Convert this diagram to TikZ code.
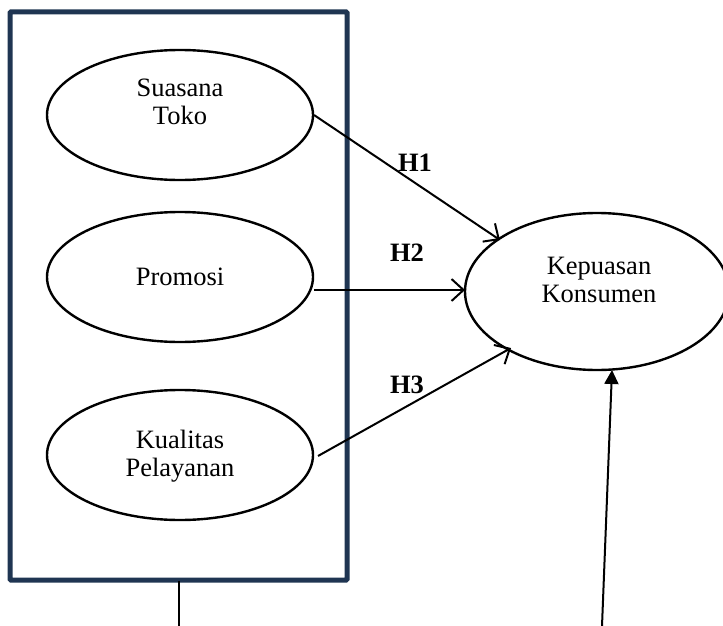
\documentclass[tikz,border=0pt]{standalone}
\usepackage{fontspec}
\setmainfont{Liberation Serif}
\usetikzlibrary{arrows.meta,shapes.geometric}
\definecolor{navy}{HTML}{1F3552}
\tikzset{
  var/.style={draw=black, line width=2.4pt, ellipse, minimum width=266pt, minimum height=130pt, inner sep=0pt},
  lbl/.style={align=center, inner sep=0pt, font=\fontsize{26.5}{27.5}\selectfont},
  hyp/.style={inner sep=0pt, font=\fontsize{26.5}{28}\selectfont\bfseries},
  conn/.style={draw=black, line width=2pt, -{Straight Barb[length=12pt,width=22pt,line width=2pt]}},
}
\begin{document}
\begin{tikzpicture}[x=1pt,y=-1pt]
\useasboundingbox (0,0) rectangle (723,626);
\begin{scope}
\clip (0,0) rectangle (723,626);
\draw[navy, line width=5pt, rounded corners=1pt] (10,12) rectangle (347,580);
\node[var] (st) at (180,115) {};
\node[var] (pr) at (180,277) {};
\node[var] (kp) at (180,455) {};
\node[var, minimum width=264pt, minimum height=157pt] (kk) at (597,291.5) {};
\node[lbl] (tst) at (180,102) {Suasana\\Toko};
\node[lbl] (tpr) at (180,277) {Promosi};
\node[lbl] (tkp) at (180,456) {Kualitas\\Pelayanan};
\node[lbl] (tkk) at (599,280) {Kepuasan\\Konsumen};
\coordinate (a1) at (314,115);
\coordinate (b1) at (500,240);
\coordinate (a2) at (314,290);
\coordinate (b2) at (465,290);
\coordinate (a3) at (318,456);
\coordinate (b3) at (511,348);
\draw[conn] (a1) -- (b1);
\draw[conn] (a2) -- (b2);
\draw[conn] (a3) -- (b3);
\node[hyp] (h1) at (415,163) {H1};
\node[hyp] (h2) at (407,253) {H2};
\node[hyp] (h3) at (407,385) {H3};
\coordinate (s1) at (179,581);
\coordinate (e1) at (179,626);
\draw[black, line width=1.2pt] (s1) -- (e1);
\coordinate (s2) at (602,626);
\coordinate (e2) at (612,370);
\draw[black, line width=2pt, -{Triangle[length=14pt,width=14pt]}] (s2) -- (e2);
\end{scope}
\end{tikzpicture}
\end{document}
